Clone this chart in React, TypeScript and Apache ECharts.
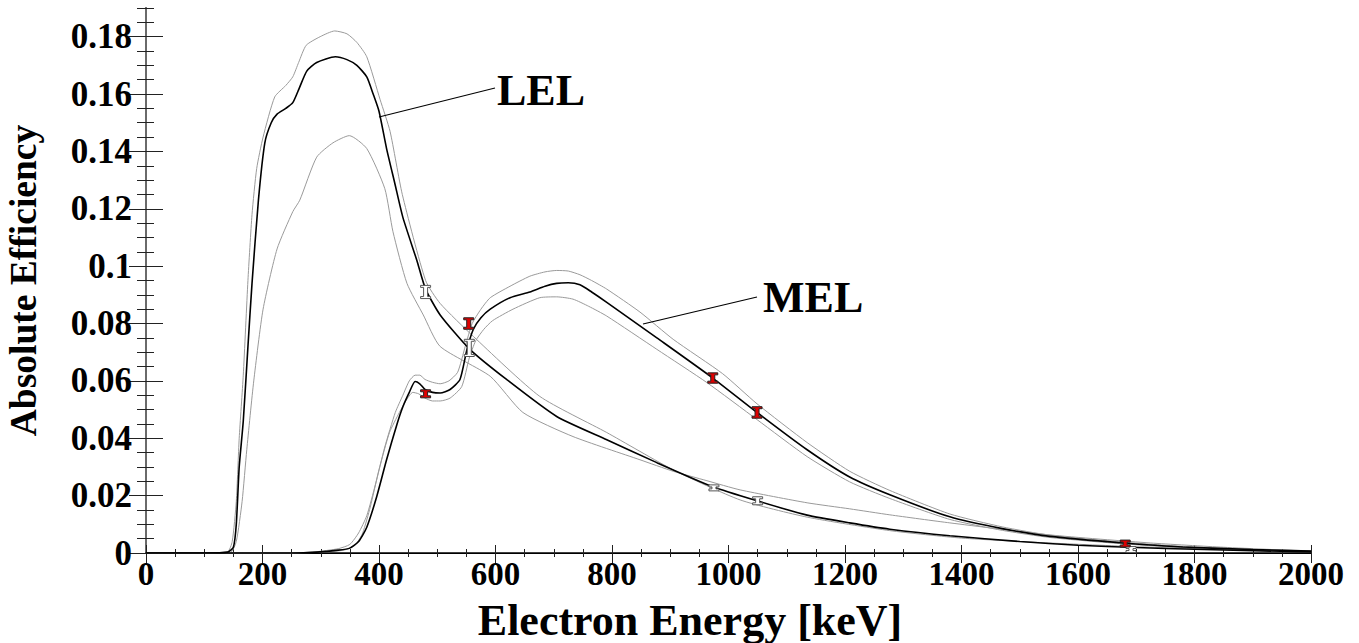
import React, { useEffect, useRef } from "react";
import * as echarts from "echarts";

// ---------- data ----------
const lelX = [0, 100, 140, 150, 155, 160, 167, 175, 182, 193, 204, 215, 225, 240, 252, 263, 276, 293, 325, 345, 362, 379, 390, 400, 413, 427, 441, 465, 480, 505, 556, 619, 705, 791, 877, 973, 1049, 1135, 1208, 1277, 1380, 1500, 1600, 1700, 1800, 1900, 2000];
const lelY = [0, 0, 0.0003, 0.002, 0.010, 0.030, 0.046, 0.072, 0.094, 0.123, 0.143, 0.150, 0.153, 0.155, 0.157, 0.162, 0.168, 0.171, 0.173, 0.172, 0.170, 0.166, 0.160, 0.154, 0.141, 0.129, 0.117, 0.102, 0.092, 0.083, 0.071, 0.0605, 0.0476, 0.0395, 0.0315, 0.0231, 0.0182, 0.0132, 0.0105, 0.0083, 0.0060, 0.0040, 0.0027, 0.0019, 0.0013, 0.0008, 0.0004];
const lelUpX = [0, 100, 140, 148, 155, 160, 167, 175, 182, 190, 201, 221, 240, 252, 262, 275, 299, 324, 345, 362, 379, 402, 419, 440, 480, 505, 562, 676, 791, 905, 1020, 1135, 1277, 1400, 1550, 1700, 1850, 2000];
const lelUpY = [0, 0, 0.0004, 0.004, 0.018, 0.040, 0.062, 0.095, 0.118, 0.134, 0.145, 0.159, 0.163, 0.166, 0.171, 0.177, 0.180, 0.182, 0.181, 0.178, 0.173, 0.158, 0.147, 0.125, 0.095, 0.087, 0.0755, 0.0546, 0.042, 0.029, 0.0185, 0.0125, 0.0078, 0.0052, 0.0035, 0.0022, 0.0012, 0.0004];
const lelLoX = [0, 100, 145, 155, 165, 173, 185, 201, 225, 252, 264, 293, 321, 349, 379, 410, 424, 448, 476, 505, 591, 647, 733, 848, 905, 963, 1020, 1135, 1208, 1277, 1380, 1552, 1724, 1850, 2000];
const lelLoY = [0, 0, 0.0002, 0.004, 0.018, 0.036, 0.060, 0.085, 0.106, 0.119, 0.123, 0.138, 0.143, 0.1455, 0.141, 0.127, 0.112, 0.094, 0.083, 0.072, 0.0616, 0.049, 0.0406, 0.0325, 0.0285, 0.0252, 0.022, 0.0175, 0.0154, 0.0133, 0.0105, 0.0063, 0.0035, 0.002, 0.0006];

const melX = [0, 250, 293, 330, 350, 365, 379, 396, 413, 431, 441, 452, 462, 470, 479, 492, 505, 522, 539, 551, 562, 575, 591, 625, 659, 685, 705, 725, 745, 765, 791, 877, 973, 1049, 1135, 1208, 1277, 1380, 1470, 1552, 1677, 1780, 1900, 2000];
const melY = [0, 0, 0.0003, 0.001, 0.0017, 0.004, 0.009, 0.0196, 0.0325, 0.045, 0.051, 0.056, 0.0598, 0.059, 0.057, 0.056, 0.0558, 0.057, 0.0605, 0.071, 0.078, 0.082, 0.085, 0.089, 0.091, 0.093, 0.094, 0.0942, 0.0935, 0.091, 0.0874, 0.075, 0.061, 0.049, 0.036, 0.0265, 0.0203, 0.0126, 0.0085, 0.0058, 0.0035, 0.0021, 0.0012, 0.0007];
const melUpX = [0, 250, 290, 330, 350, 365, 379, 394, 410, 428, 441, 452, 462, 470, 479, 492, 505, 520, 535, 548, 560, 575, 591, 625, 659, 685, 705, 725, 745, 765, 791, 848, 905, 990, 1049, 1135, 1208, 1277, 1380, 1470, 1552, 1677, 1780, 1900, 2000];
const melUpY = [0, 0, 0.0004, 0.0015, 0.003, 0.007, 0.013, 0.024, 0.037, 0.049, 0.055, 0.060, 0.062, 0.062, 0.0605, 0.0595, 0.059, 0.060, 0.063, 0.072, 0.080, 0.085, 0.089, 0.093, 0.0965, 0.098, 0.0985, 0.0983, 0.097, 0.095, 0.092, 0.084, 0.0745, 0.0625, 0.052, 0.0385, 0.0285, 0.0218, 0.0136, 0.0091, 0.0062, 0.0038, 0.0023, 0.0013, 0.0008];
const melLoX = [0, 260, 300, 340, 360, 372, 385, 400, 418, 435, 446, 458, 468, 479, 492, 505, 522, 542, 555, 566, 580, 595, 630, 676, 705, 733, 760, 791, 877, 963, 1049, 1135, 1208, 1277, 1380, 1470, 1552, 1677, 1780, 1900, 2000];
const melLoY = [0, 0, 0.0003, 0.001, 0.003, 0.007, 0.016, 0.029, 0.042, 0.049, 0.053, 0.056, 0.0555, 0.054, 0.053, 0.053, 0.054, 0.058, 0.068, 0.074, 0.078, 0.081, 0.085, 0.089, 0.0893, 0.0885, 0.086, 0.0826, 0.071, 0.0594, 0.0465, 0.0336, 0.0248, 0.019, 0.0117, 0.0079, 0.0054, 0.0032, 0.0019, 0.0011, 0.0006];

// error bars: energy, centre, half-height
const lelErrX = [480, 555, 975, 1050, 1691];
const lelErrY = [0.091, 0.0715, 0.0227, 0.0182, 0.0012];
const lelErrH = [0.0023, 0.003, 0.0007, 0.0014, 0.0008];
const melErrX = [480, 554, 973, 1049, 1681];
const melErrY = [0.0555, 0.080, 0.061, 0.049, 0.0033];
const melErrH = [0.0014, 0.002, 0.0018, 0.002, 0.0012];

const xTicks = [0, 200, 400, 600, 800, 1000, 1200, 1400, 1600, 1800, 2000];
const yTicks = [0, 0.02, 0.04, 0.06, 0.08, 0.1, 0.12, 0.14, 0.16, 0.18];

const FONT = "'Liberation Serif', 'Times New Roman', serif";

const pairs = (xs: number[], ys: number[]) => xs.map((x, i) => [x, ys[i]]);

function ibeam(fill: string, stroke: string) {
  return (params: any, api: any) => {
    const x = api.value(0);
    const yc = api.value(1);
    const h = api.value(2);
    const top = api.coord([x, yc + h]);
    const bot = api.coord([x, yc - h]);
    const cx = top[0];
    let t = top[1];
    let b = bot[1];
    const ch = 2;
    if (b - t < 2 * ch + 2) {
      const m = (t + b) / 2;
      t = m - ch - 1;
      b = m + ch + 1;
    }
    const cw = 5;
    const sw = 2;
    const pts = [
      [cx - cw, t], [cx + cw, t], [cx + cw, t + ch], [cx + sw, t + ch],
      [cx + sw, b - ch], [cx + cw, b - ch], [cx + cw, b], [cx - cw, b],
      [cx - cw, b - ch], [cx - sw, b - ch], [cx - sw, t + ch], [cx - cw, t + ch],
    ];
    return {
      type: "polygon",
      shape: { points: pts },
      style: { fill, stroke, lineWidth: 1 },
    };
  };
}

export default function App() {
  const ref = useRef<HTMLDivElement>(null);
  useEffect(() => {
    if (!ref.current) return;
    const chart = echarts.init(ref.current, null, { renderer: "svg" });
    const baseX = { type: "value", min: 0, max: 2000, gridIndex: 0 } as any;
    const baseY = { type: "value", min: 0, max: 0.19, gridIndex: 0 } as any;
    const hidden = { show: false };
    const tickCol = "#222";
    const grayLine = { color: "#9a9a9a", width: 1 };
    const blackLine = { color: "#000", width: 1.6 };
    const line = (name: string, data: number[][], style: any, z = 2) => ({
      type: "line",
      name,
      data,
      showSymbol: false,
      symbol: "none",
      smooth: 0.2,
      lineStyle: style,
      silent: true,
      z,
    });
    chart.setOption({
      animation: false,
      backgroundColor: "#fff",
      grid: { left: 146, right: 48, top: 8, bottom: 90, containLabel: false, outerBoundsMode: "none" },
      xAxis: [
        {
          ...baseX,
          position: "bottom",
          interval: 200,
          axisLine: { show: true, lineStyle: { color: "#000", width: 1.5 } },
          axisTick: { show: true, inside: false, length: 10, lineStyle: { color: tickCol } },
          axisLabel: {
            show: true, margin: 4, fontFamily: FONT, fontWeight: "bold", fontSize: 33, color: "#000",
            customValues: xTicks,
            formatter: (v: number) => String(v),
          },
          splitLine: hidden,
        },
        { ...baseX, position: "bottom", interval: 200, axisLine: hidden, axisLabel: hidden, splitLine: hidden, axisTick: { show: true, inside: true, length: 8, lineStyle: { color: tickCol } } },
        { ...baseX, position: "bottom", interval: 50, axisLine: hidden, axisLabel: hidden, splitLine: hidden, axisTick: { show: true, inside: false, length: 4, lineStyle: { color: tickCol } } },
        { ...baseX, position: "bottom", interval: 50, axisLine: hidden, axisLabel: hidden, splitLine: hidden, axisTick: { show: true, inside: true, length: 4, lineStyle: { color: tickCol } } },
        { ...baseX, position: "top", interval: 200, axisLine: { show: true, lineStyle: { color: "#000", width: 1 } }, axisLabel: hidden, splitLine: hidden, axisTick: hidden },
      ],
      yAxis: [
        {
          ...baseY,
          position: "left",
          interval: 0.02,
          axisLine: { show: true, lineStyle: { color: "#000", width: 1.5 } },
          axisTick: { show: true, inside: false, length: 17, lineStyle: { color: tickCol }, customValues: yTicks },
          axisLabel: {
            show: true, margin: 14, fontFamily: FONT, fontWeight: "bold", fontSize: 35, color: "#000",
            customValues: yTicks,
            formatter: (v: number) => String(Math.round(v * 100) / 100),
          },
          splitLine: hidden,
          name: "Absolute Efficiency",
          nameLocation: "middle",
          nameGap: 104,
          nameTextStyle: { fontFamily: FONT, fontWeight: "bold", fontSize: 37.5, color: "#000" },
        },
        { ...baseY, position: "left", interval: 0.02, axisLine: hidden, axisLabel: hidden, splitLine: hidden, axisTick: { show: true, inside: true, length: 17, lineStyle: { color: tickCol }, customValues: yTicks } },
        { ...baseY, position: "left", interval: 0.005, axisLine: hidden, axisLabel: hidden, splitLine: hidden, axisTick: { show: true, inside: false, length: 9, lineStyle: { color: tickCol } } },
        { ...baseY, position: "left", interval: 0.005, axisLine: hidden, axisLabel: hidden, splitLine: hidden, axisTick: { show: true, inside: true, length: 8, lineStyle: { color: tickCol } } },
        { ...baseY, position: "right", interval: 0.02, axisLine: { show: true, lineStyle: { color: "#6a6a6a", width: 2 } }, axisLabel: hidden, splitLine: hidden, axisTick: hidden },
      ],
      series: [
        line("LEL upper", pairs(lelUpX, lelUpY), grayLine),
        line("LEL lower", pairs(lelLoX, lelLoY), grayLine),
        line("MEL upper", pairs(melUpX, melUpY), grayLine),
        line("MEL lower", pairs(melLoX, melLoY), grayLine),
        line("LEL", pairs(lelX, lelY), blackLine, 3),
        line("MEL", pairs(melX, melY), blackLine, 3),
        {
          type: "custom",
          name: "LEL errors",
          renderItem: ibeam("#ffffff", "#555"),
          data: lelErrX.map((x, i) => [x, lelErrY[i], lelErrH[i]]),
          z: 5,
          silent: true,
        },
        {
          type: "custom",
          name: "MEL errors",
          renderItem: ibeam("#e00000", "#222"),
          data: melErrX.map((x, i) => [x, melErrY[i], melErrH[i]]),
          z: 5,
          silent: true,
        },
      ],
      graphic: [
        { type: "line", shape: { x1: 379, y1: 117, x2: 495, y2: 88 }, style: { stroke: "#000", lineWidth: 1.2 }, z: 10 },
        { type: "line", shape: { x1: 643, y1: 324, x2: 757, y2: 297 }, style: { stroke: "#000", lineWidth: 1.2 }, z: 10 },
        { type: "text", x: 497, y: 90, style: { text: "LEL", font: `bold 44px ${FONT}`, fill: "#000", textVerticalAlign: "middle" }, z: 10 },
        { type: "text", x: 763, y: 297, style: { text: "MEL", font: `bold 44px ${FONT}`, fill: "#000", textVerticalAlign: "middle" }, z: 10 },
        { type: "text", x: 690, y: 620, style: { text: "Electron Energy [keV]", font: `bold 44px ${FONT}`, fill: "#000", textAlign: "center", textVerticalAlign: "middle" }, z: 10 },
      ],
    });
    return () => chart.dispose();
  }, []);
  return (
    <div style={{ position: "fixed", left: 0, top: 0, width: 1359, height: 643, background: "#fff" }}>
      <div ref={ref} style={{ width: 1359, height: 643 }} />
    </div>
  );
}
